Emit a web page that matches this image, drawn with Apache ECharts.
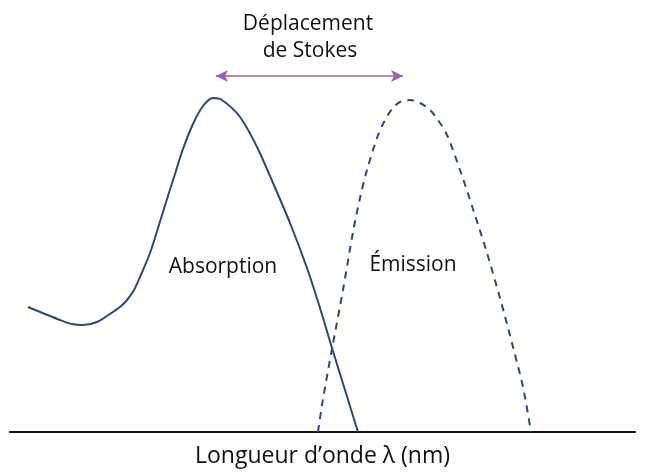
<!DOCTYPE html>
<html>
<head>
<meta charset="utf-8">
<script src="https://cdn.jsdelivr.net/npm/echarts@6/dist/echarts.min.js"></script>
<style>
  html, body { margin: 0; padding: 0; background: #fff; }
  #chart { width: 647px; height: 472px; }
</style>
</head>
<body>
<div id="chart"></div>
<script>
// courbes : [x, intensité]
const absorption = [
  [28, 125], [45, 118], [60, 112], [72, 108], [83, 107], [97, 110],
  [110, 118], [120, 125], [127, 132], [134, 142], [140, 155], [150, 179],
  [158, 204], [167, 233], [175, 258], [183, 283], [193, 308], [203, 326],
  [213, 334], [222, 332], [240, 315], [257, 285], [273, 249], [290, 209],
  [307, 164], [320, 124], [332, 84], [345, 42], [358, 0]
];
const emission = [
  [318, 0], [323, 33], [332, 83], [343, 142], [353, 200], [360, 234],
  [367, 262], [377, 294], [384, 310], [392, 323], [400, 330], [410, 332],
  [420, 329], [430, 322], [438, 312], [447, 297], [460, 262], [473, 223],
  [487, 179], [500, 134], [513, 85], [523, 45], [531, 0]
];
const stokesShift = [216, 403];   // sommets approx.
const stokesLevel = 356;

const lineColor = "#2f4677";
const font = "'Open Sans', 'Noto Sans', sans-serif";

let myChart = echarts.init(document.getElementById("chart"));

myChart.setOption({
  animation: false,
  grid: { left: 10, right: 12, top: 0, bottom: 40, outerBoundsMode: "none" },
  xAxis: {
    type: "value",
    min: 10,
    max: 635,
    axisLine: { onZero: false, lineStyle: { color: "#111", width: 2 } },
    axisTick: { show: false },
    axisLabel: { show: false },
    splitLine: { show: false },
    name: "Longueur d\u2019onde \u03bb (nm)",
    nameLocation: "middle",
    nameGap: 13,
    nameTextStyle: { fontFamily: font, fontSize: 23, color: "#111" },
  },
  yAxis: {
    type: "value",
    min: 0,
    max: 432,
    show: false,
  },
  series: [
    {
      name: "Absorption",
      type: "line",
      data: absorption,
      smooth: 0.3,
      symbol: "none",
      lineStyle: { color: lineColor, width: 2 },
      markLine: {
        silent: true,
        symbol: ["arrow", "arrow"],
        symbolSize: [9, 12],
        label: { show: false },
        lineStyle: { color: "#9b5fb4", width: 1.5, type: "solid" },
        data: [[
          { coord: [stokesShift[0], stokesLevel] },
          { coord: [stokesShift[1], stokesLevel] },
        ]],
      },
    },
    {
      name: "Émission",
      type: "line",
      data: emission,
      smooth: 0.3,
      symbol: "none",
      lineStyle: { color: lineColor, width: 2, type: [7, 6] },
    },
  ],
  graphic: [
    {
      type: "text",
      x: 308, y: 24,
      style: { text: "Déplacement", fontFamily: font, fontSize: 21, fill: "#111", align: "center", verticalAlign: "middle" },
    },
    {
      type: "text",
      x: 310, y: 51,
      style: { text: "de Stokes", fontFamily: font, fontSize: 21, fill: "#111", align: "center", verticalAlign: "middle" },
    },
    {
      type: "text",
      x: 223, y: 267,
      style: { text: "Absorption", fontFamily: font, fontSize: 21, fill: "#111", align: "center", verticalAlign: "middle" },
    },
    {
      type: "text",
      x: 413, y: 265,
      style: { text: "Émission", fontFamily: font, fontSize: 21, fill: "#111", align: "center", verticalAlign: "middle" },
    },
  ],
});
</script>
</body>
</html>
